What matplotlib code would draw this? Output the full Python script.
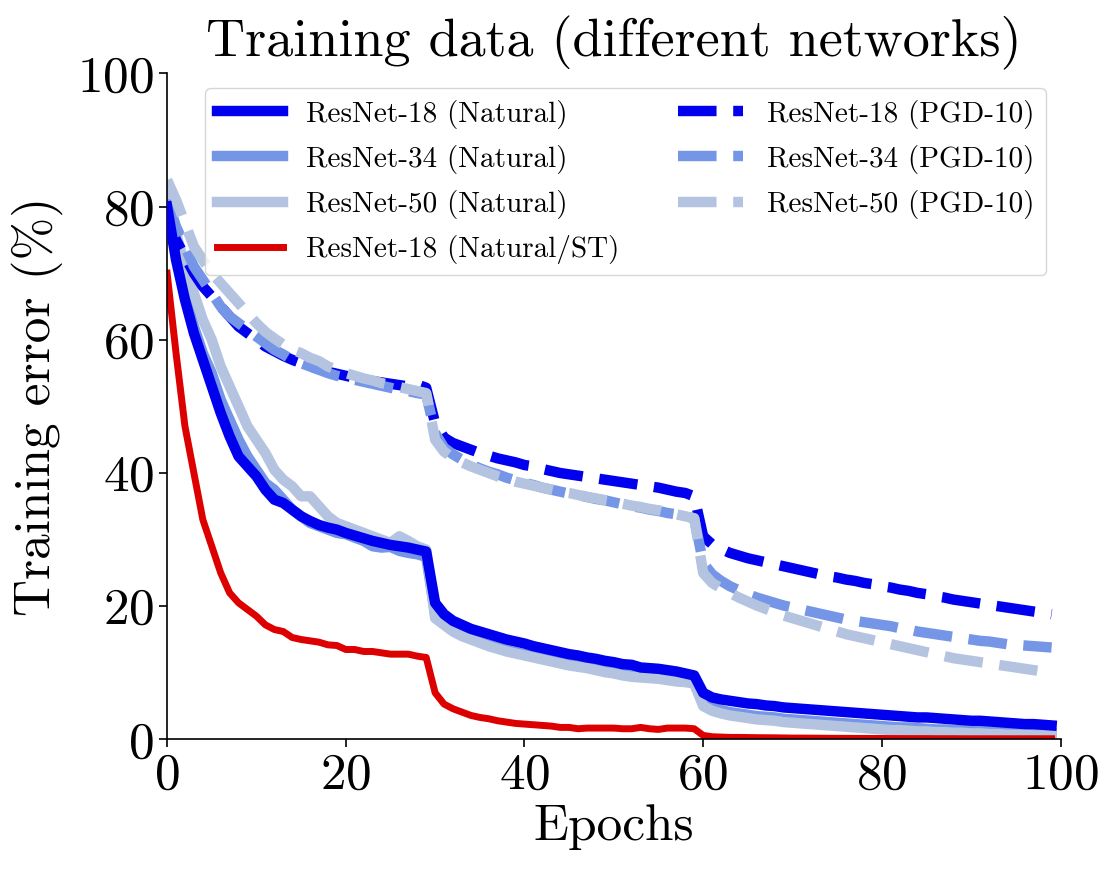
import matplotlib
matplotlib.use("Agg")
import matplotlib.pyplot as plt

plt.rcParams['font.family'] = ['cmr10', 'DejaVu Serif']
plt.rcParams['mathtext.fontset'] = 'cm'
plt.rcParams['axes.formatter.use_mathtext'] = True

# training error (%) per epoch
epochs = list(range(100))

r18_nat = [80, 72, 66, 61, 57, 53, 49, 45.5, 42.5, 41,
           39.5, 37.5, 36, 35.5, 34.5, 33.5, 32.8, 32.2, 31.8, 31.5,
           31, 30.6, 30.2, 29.8, 29.5, 29.2, 29, 28.8, 28.5, 28.2,
           20.5, 18.8, 17.8, 17.2, 16.6, 16.2, 15.8, 15.4, 15, 14.7,
           14.4, 14, 13.7, 13.4, 13.1, 12.8, 12.6, 12.3, 12.1, 11.8,
           11.6, 11.3, 11.2, 10.8, 10.7, 10.6, 10.4, 10.2, 9.9, 9.6,
           7, 6.3, 6, 5.8, 5.6, 5.4, 5.3, 5.1, 5, 4.8,
           4.7, 4.6, 4.5, 4.4, 4.3, 4.2, 4.1, 4, 3.9, 3.8,
           3.7, 3.6, 3.5, 3.4, 3.3, 3.3, 3.2, 3.1, 3.0, 2.9,
           2.8, 2.8, 2.7, 2.6, 2.5, 2.4, 2.3, 2.3, 2.2, 2.1]

r34_nat = [79, 73, 67, 62, 58, 55, 51, 48, 45, 42.5,
           40.5, 38.5, 37.5, 36, 34.5, 33.5, 32.5, 32, 31.5, 31,
           30.8, 30.3, 29.8, 29, 28.8, 28.9, 28.3, 28, 27.8, 27.4,
           18.8, 17.5, 16.5, 15.8, 15.2, 14.6, 14.2, 13.8, 13.4, 13.1,
           12.8, 12.5, 12.2, 11.9, 11.6, 11.3, 11.1, 10.9, 10.6, 10.4,
           10.2, 10, 9.8, 9.6, 9.5, 9.3, 9.1, 8.9, 8.7, 8.5,
           5.5, 4.8, 4.4, 4.1, 3.9, 3.7, 3.5, 3.4, 3.3, 3.1,
           3.0, 2.9, 2.8, 2.7, 2.6, 2.5, 2.4, 2.3, 2.2, 2.1,
           2.0, 1.9, 1.8, 1.8, 1.7, 1.6, 1.5, 1.5, 1.4, 1.4,
           1.3, 1.3, 1.2, 1.2, 1.1, 1.1, 1.0, 1.0, 0.9, 0.9]

r50_nat = [82, 76, 71, 67, 63, 60, 56, 53, 50, 47,
           45, 43, 40.5, 39, 38, 36.5, 36.5, 35, 33.5, 32.5,
           32, 31.5, 31, 30.5, 30, 29.5, 30.5, 29.8, 29, 28.5,
           18.2, 17.2, 16.2, 15.5, 15, 14.5, 14, 13.6, 13.2, 12.9,
           12.6, 12.3, 12, 11.7, 11.4, 11.1, 10.9, 10.7, 10.4, 10.1,
           9.9, 9.6, 9.4, 9.3, 9.2, 9.1, 8.9, 8.7, 8.6, 8.4,
           5, 4.3, 3.9, 3.6, 3.4, 3.2, 3.0, 2.9, 2.8, 2.6,
           2.5, 2.4, 2.3, 2.2, 2.1, 2.0, 1.9, 1.8, 1.7, 1.6,
           1.5, 1.4, 1.4, 1.3, 1.2, 1.2, 1.1, 1.1, 1.0, 1.0,
           0.9, 0.9, 0.8, 0.8, 0.7, 0.7, 0.7, 0.6, 0.6, 0.6]

r18_st = [70, 58, 47, 40, 33, 29, 25, 22, 20.5, 19.5,
          18.5, 17.2, 16.5, 16.2, 15.3, 15, 14.8, 14.6, 14.2, 14.1,
          13.5, 13.5, 13.2, 13.2, 13, 12.8, 12.8, 12.8, 12.5, 12.3,
          7, 5.3, 4.6, 4.1, 3.6, 3.3, 3.1, 2.8, 2.6, 2.4,
          2.3, 2.2, 2.1, 2.0, 1.8, 1.8, 1.6, 1.7, 1.7, 1.7,
          1.7, 1.6, 1.6, 1.8, 1.6, 1.5, 1.7, 1.7, 1.7, 1.6,
          0.6, 0.4, 0.35, 0.3, 0.3, 0.28, 0.26, 0.25, 0.24, 0.22,
          0.2, 0.2, 0.19, 0.18, 0.17, 0.16, 0.16, 0.15, 0.15, 0.14,
          0.14, 0.13, 0.13, 0.12, 0.12, 0.12, 0.11, 0.11, 0.11, 0.1,
          0.1, 0.1, 0.1, 0.1, 0.1, 0.1, 0.1, 0.1, 0.1, 0.1]

r18_pgd = [79, 75, 72.5, 70, 68, 66.5, 65, 63.5, 62, 61,
           60, 59, 58.3, 57.6, 57, 56.5, 56, 55.6, 55.2, 54.9,
           54.6, 54.3, 54, 53.8, 53.6, 53.4, 53.2, 53, 53.3, 52.8,
           47.5, 45.3, 44.5, 44, 43.5, 43, 42.6, 42.2, 41.9, 41.6,
           41.2, 41, 40.6, 40.3, 40, 39.8, 39.6, 39.4, 39.2, 39,
           38.8, 38.6, 38.4, 38.2, 38, 37.8, 37.5, 37.2, 37, 36.5,
           30.5, 29.3, 28.6, 28, 27.6, 27.2, 26.9, 26.6, 26.3, 26,
           25.7, 25.4, 25.1, 24.8, 24.5, 24.3, 24, 23.8, 23.5, 23.3,
           23, 22.8, 22.5, 22.3, 22, 21.8, 21.5, 21.3, 21, 20.8,
           20.6, 20.4, 20.2, 20, 19.8, 19.6, 19.4, 19.2, 19, 18.8]

r34_pgd = [81, 77, 74, 71, 69, 67, 65, 63.5, 62.5, 61.5,
           60.5, 59.5, 58.5, 57.8, 57, 56.5, 56, 55.5, 55, 54.6,
           54.3, 54, 53.7, 53.4, 53.1, 52.8, 52.5, 52.3, 52, 51.8,
           46, 43.8, 42.8, 42, 41.3, 40.7, 40.2, 39.8, 39.3, 38.9,
           38.5, 38.2, 37.8, 37.5, 37.2, 36.9, 36.7, 36.4, 36.1, 35.9,
           35.6, 35.3, 35, 34.8, 34.5, 34.3, 34, 33.8, 33.5, 33.2,
           26.5, 24.8, 23.8, 23, 22.4, 21.8, 21.3, 20.9, 20.5, 20.1,
           19.8, 19.5, 19.2, 18.9, 18.6, 18.3, 18, 17.8, 17.6, 17.4,
           17.2, 17, 16.7, 16.5, 16.2, 16, 15.8, 15.6, 15.4, 15.2,
           15, 14.8, 14.7, 14.5, 14.3, 14.2, 14.1, 14, 13.9, 13.8]

r50_pgd = [84, 81, 77.5, 74, 72, 70, 68.5, 67, 65.5, 64,
           62.5, 61.2, 60.2, 59.3, 58.5, 58, 57.3, 56.8, 56, 55.5,
           55, 54.6, 54.2, 53.9, 53.5, 53.2, 52.9, 52.6, 52.3, 52,
           45, 43.2, 42.3, 41.6, 41, 40.5, 40, 39.5, 39.1, 38.7,
           38.4, 38.1, 37.8, 37.5, 37.2, 37, 36.7, 36.4, 36.2, 35.9,
           35.7, 35.4, 35.1, 34.9, 34.6, 34.4, 34.1, 33.8, 33.5, 33.2,
           25, 23.5, 22.7, 22, 21.3, 20.7, 20.1, 19.6, 19.1, 18.6,
           18.2, 17.8, 17.4, 17, 16.6, 16.2, 15.8, 15.5, 15.2, 14.9,
           14.6, 14.3, 14, 13.7, 13.4, 13.1, 12.8, 12.5, 12.2, 12,
           11.8, 11.6, 11.4, 11.2, 11, 10.8, 10.6, 10.4, 10.2, 10]

blue = '#0000ee'
mid = '#7596e6'
light = '#b4c4e0'
red = '#dd0000'

fig = plt.figure(figsize=(11.14, 8.74), dpi=100)
ax = fig.add_axes([0.150, 0.154, 0.802, 0.762])

lw = 7.5
ax.plot(epochs, r18_nat, color=blue, lw=lw, label='ResNet-18 (Natural)', zorder=3)
ax.plot(epochs, r34_nat, color=mid, lw=lw, label='ResNet-34 (Natural)')
ax.plot(epochs, r50_nat, color=light, lw=lw, label='ResNet-50 (Natural)')
ax.plot(epochs, r18_st, color=red, lw=5, label='ResNet-18 (Natural/ST)')
ax.plot(epochs, r18_pgd, color=blue, lw=lw, ls='--', label='ResNet-18 (PGD-10)')
ax.plot(epochs, r34_pgd, color=mid, lw=lw, ls='--', label='ResNet-34 (PGD-10)')
ax.plot(epochs, r50_pgd, color=light, lw=lw, ls='--', label='ResNet-50 (PGD-10)')

ax.set_xlim(0, 100)
ax.set_ylim(0, 100)
ax.set_xticks([0, 20, 40, 60, 80, 100])
ax.set_yticks([0, 20, 40, 60, 80, 100])
ax.tick_params(labelsize=37, length=6, width=1.2)
for s in ['top', 'right']:
    ax.spines[s].set_visible(False)
for s in ['left', 'bottom']:
    ax.spines[s].set_linewidth(1.2)

ax.set_xlabel('Epochs', fontsize=37, labelpad=4)
ax.set_ylabel('Training error (%)', fontsize=37, labelpad=10)
ax.set_title('Training data (different networks)', fontsize=39, pad=12)

leg = ax.legend(loc='upper right', ncol=2, fontsize=21, frameon=True,
                labelspacing=0.55, handlelength=2.25)
leg.set_zorder(5)

fig.savefig('out.png', dpi=100)
